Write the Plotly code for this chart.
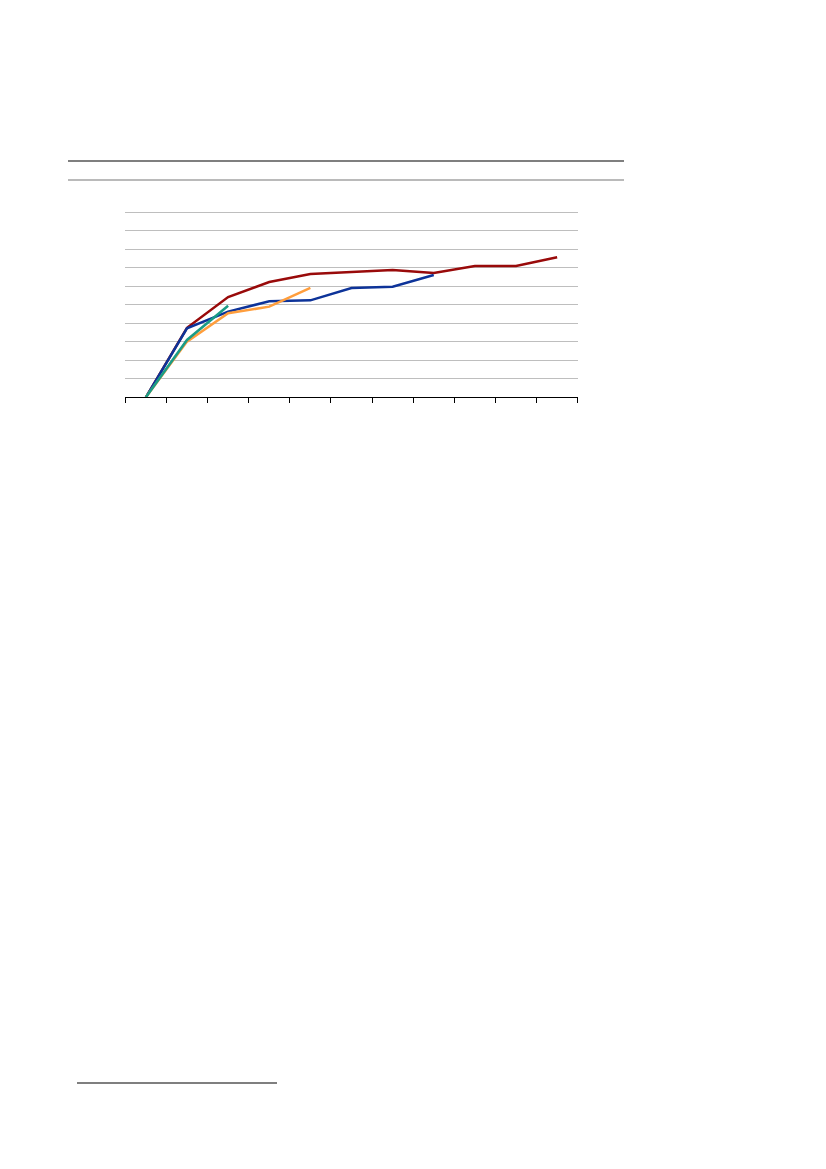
import plotly.graph_objects as go

# categories along the x axis (labels are not shown in the reference)
periods = ["1", "2", "3", "4", "5", "6", "7", "8", "9", "10", "11"]

# series values (gridline step = 10)
red_vals = [0, 37.6, 54.2, 62.3, 66.6, 67.6, 68.8, 67.2, 71.0, 71.0, 75.7]
blue_vals = [0, 37.3, 46.3, 51.9, 52.4, 59.1, 59.8, 66.1, None, None, None]
orange_vals = [0, 30.1, 45.4, 49.0, 59.1, None, None, None, None, None, None]
teal_vals = [0, 31.0, 49.5, None, None, None, None, None, None, None, None]

# page is shown with an 8px body margin, so work in shifted pixels
OFF = 8
W, H = 826 - OFF, 1169 - OFF

fig = go.Figure()

# drawing order: red under blue, teal on top
for vals, col in [(red_vals, "#990A0A"),
                  (blue_vals, "#0D3399"),
                  (orange_vals, "#FF9E3D"),
                  (teal_vals, "#1A9C86")]:
    fig.add_trace(go.Scatter(x=periods, y=vals, mode="lines",
                             line=dict(color=col, width=2.5),
                             showlegend=False, hoverinfo="skip"))


def px_(pix):
    return (pix - OFF) / W


def py(pix):
    return 1 - (pix - OFF) / H


# page furniture: two rules above the chart and the footnote rule
shapes = [
    dict(type="line", xref="paper", yref="paper", x0=px_(68), x1=px_(624),
         y0=py(161), y1=py(161), line=dict(color="#555555", width=1.3)),
    dict(type="line", xref="paper", yref="paper", x0=px_(68), x1=px_(624),
         y0=py(180), y1=py(180), line=dict(color="#A3A3A3", width=1.5)),
    dict(type="line", xref="paper", yref="paper", x0=px_(77), x1=px_(277),
         y0=py(1083), y1=py(1083), line=dict(color="#555555", width=1.3)),
]

# leave a little headroom so the 100 gridline is drawn
ymax = 103
top_pix = 397.3 - 18.5 * ymax / 10

fig.update_layout(
    width=W, height=H,
    margin=dict(l=0, r=0, t=0, b=0),
    paper_bgcolor="white", plot_bgcolor="white",
    shapes=shapes,
    xaxis=dict(type="category", domain=[px_(125.3), px_(577.7)],
               tickson="boundaries", ticks="outside", ticklen=5,
               tickcolor="black", tickwidth=1,
               showticklabels=False, showgrid=False,
               showline=True, linecolor="black", linewidth=1.3,
               zeroline=False, range=[-0.5, 10.5]),
    yaxis=dict(domain=[py(397.3), py(top_pix)], range=[0, ymax], dtick=10,
               showticklabels=False, showgrid=True, gridcolor="#BEBEBE",
               gridwidth=1, zeroline=False, showline=False, ticks=""),
)

fig.write_html("out.html")
